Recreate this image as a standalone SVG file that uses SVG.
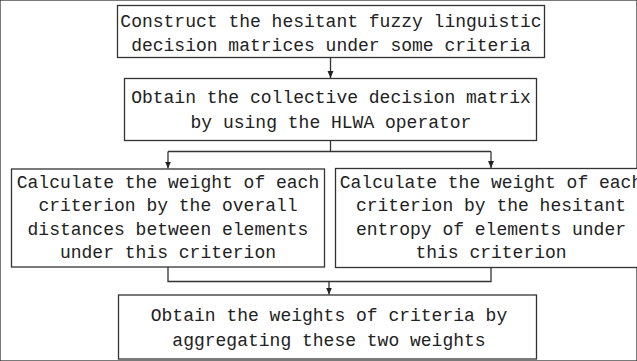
<svg xmlns="http://www.w3.org/2000/svg" width="637" height="361" viewBox="0 0 637 361">
<style>
rect{fill:#fff;stroke:#333;stroke-width:1.3}
text{font-family:"Liberation Mono","DejaVu Sans Mono",monospace;font-size:18px;fill:#222;text-anchor:middle}
.c{fill:none;stroke:#333;stroke-width:1.3}
</style>
<defs>
<marker id="ah" markerWidth="8" markerHeight="10" refX="7" refY="4" orient="auto" markerUnits="userSpaceOnUse" viewBox="0 0 8 8">
<path d="M0,1 L7,4 L0,7 Z" fill="#222"/>
</marker>
</defs>
<rect width="637" height="361" fill="#fff" stroke="none"/>
<g id="connectors">
<path class="c" d="M330.5,57.5 V78" marker-end="url(#ah)"/>
<path class="c" d="M330.5,140.5 V151.5"/>
<path class="c" d="M168,151.5 H491"/>
<path class="c" d="M168,151.5 V168.5" marker-end="url(#ah)"/>
<path class="c" d="M491,151.5 V168" marker-end="url(#ah)"/>
<path class="c" d="M168,267 V281.5 H491 V267.5"/>
<path class="c" d="M329,281.5 V294.5" marker-end="url(#ah)"/>
</g>
<g id="n1">
<rect x="117.5" y="5.5" width="427" height="52"/>
<text x="331" y="27">Construct the hesitant fuzzy linguistic</text>
<text x="331" y="51">decision matrices under some criteria</text>
</g>
<g id="n2">
<rect x="124.5" y="78.5" width="412" height="62"/>
<text x="331" y="103">Obtain the collective decision matrix</text>
<text x="331" y="128">by using the HLWA operator</text>
</g>
<g id="n3">
<rect x="11.5" y="169" width="313" height="98"/>
<text x="168" y="188">Calculate the weight of each</text>
<text x="168" y="211">criterion by the overall</text>
<text x="168" y="235">distances between elements</text>
<text x="168" y="258">under this criterion</text>
</g>
<g id="n4">
<rect x="335.5" y="168.5" width="312" height="99"/>
<text x="491" y="188">Calculate the weight of each</text>
<text x="491" y="211">criterion by the hesitant</text>
<text x="491" y="235">entropy of elements under</text>
<text x="491" y="258">this criterion</text>
</g>
<g id="n5">
<rect x="118.5" y="295" width="418" height="64"/>
<text x="329" y="321">Obtain the weights of criteria by</text>
<text x="329" y="346">aggregating these two weights</text>
</g>
</svg>
